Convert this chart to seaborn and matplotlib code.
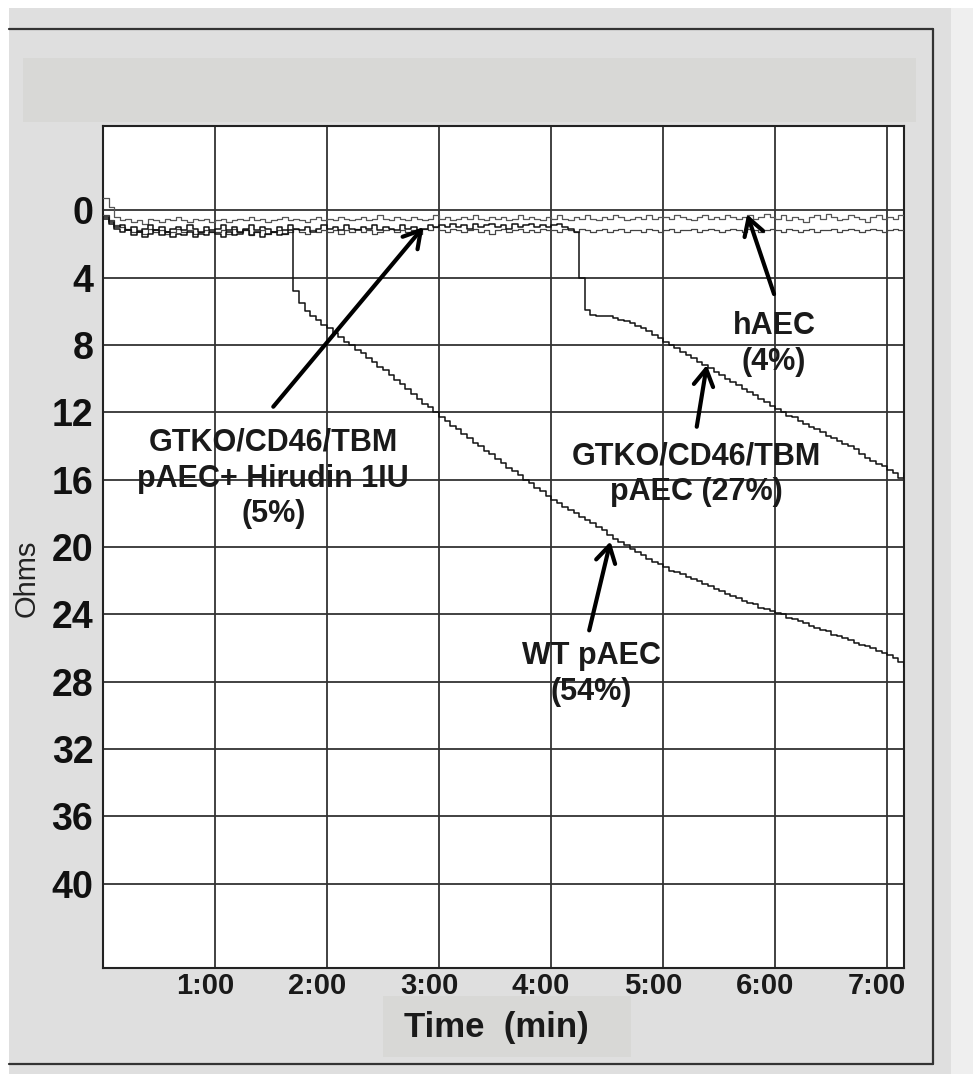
import numpy as np
import pandas as pd
import matplotlib
matplotlib.use("Agg")
import matplotlib.pyplot as plt
from matplotlib.patches import Rectangle
from matplotlib.lines import Line2D
from matplotlib.transforms import ScaledTranslation
import seaborn as sns

# ---------------- data ----------------
time_min = np.round(np.arange(0, 144) * 0.05, 2)  # 0.00 .. 7.15 min sampling grid

haec = [-0.7, -0.2, 0.4, 0.6, 0.5, 0.7, 0.6, 0.8, 0.5, 0.6, 0.7, 0.5, 0.6, 0.4, 0.6, 0.7, 0.5, 0.6, 0.5, 0.7,
        0.6, 0.5, 0.7, 0.6, 0.5, 0.6, 0.4, 0.6, 0.5, 0.7, 0.6, 0.5, 0.4, 0.6, 0.5, 0.6, 0.7, 0.5, 0.4, 0.6,
        0.5, 0.6, 0.4, 0.5, 0.6, 0.5, 0.4, 0.6, 0.5, 0.3, 0.5, 0.6, 0.4, 0.5, 0.6, 0.4, 0.5, 0.6, 0.5, 0.3,
        0.5, 0.4, 0.6, 0.5, 0.4, 0.5, 0.3, 0.5, 0.6, 0.4, 0.5, 0.4, 0.6, 0.5, 0.3, 0.5, 0.4, 0.5, 0.6, 0.4,
        0.5, 0.3, 0.5, 0.6, 0.4, 0.5, 0.3, 0.5, 0.6, 0.4, 0.5, 0.3, 0.4, 0.6, 0.5, 0.4, 0.5, 0.3, 0.5, 0.4,
        0.4, 0.5, 0.3, 0.4, 0.5, 0.6, 0.4, 0.3, 0.5, 0.4, 0.5, 0.3, 0.4, 0.5, 0.4, 0.3, 0.5, 0.4, 0.2, 0.4,
        0.5, 0.3, 0.6, 0.4, 0.5, 0.7, 0.4, 0.3, 0.5, 0.2, 0.4, 0.6, 0.5, 0.3, 0.4, 0.5, 0.7, 0.4, 0.3, 0.5,
        0.4, 0.5, 0.3, 0.4]

hirudin = [0.3, 0.6, 0.9, 1.0, 1.1, 1.3, 1.2, 1.4, 1.1, 1.3, 1.2, 1.4, 1.3, 1.1, 1.3, 1.2, 1.4, 1.3, 1.2, 1.3,
           1.3, 1.2, 1.4, 1.1, 1.3, 1.2, 1.5, 1.3, 1.2, 1.4, 1.3, 1.2, 1.4, 1.3, 1.1, 1.3, 1.4, 1.2, 1.3, 1.2,
           1.3, 1.2, 1.4, 1.2, 1.3, 1.1, 1.3, 1.2, 1.4, 1.3, 1.2, 1.1, 1.3, 1.2, 1.3, 1.2, 1.4, 1.1, 1.2, 1.0,
           1.2, 1.3, 1.1, 1.2, 1.3, 1.2, 1.1, 1.3, 1.2, 1.4, 1.2, 1.1, 1.3, 1.2, 1.1, 1.3, 1.2, 1.3, 1.1, 1.2,
           1.2, 1.3, 1.1, 1.2, 1.3, 1.1, 1.2, 1.3, 1.2, 1.1, 1.3, 1.2, 1.1, 1.3, 1.2, 1.2, 1.3, 1.1, 1.2, 1.3,
           1.2, 1.1, 1.3, 1.2, 1.2, 1.1, 1.3, 1.2, 1.1, 1.2, 1.3, 1.2, 1.1, 1.2, 1.3, 1.1, 1.2, 1.3, 1.2, 1.1,
           1.2, 1.3, 1.1, 1.2, 1.3, 1.2, 1.1, 1.3, 1.2, 1.2, 1.1, 1.3, 1.2, 1.1, 1.2, 1.3, 1.2, 1.1, 1.2, 1.3,
           1.2, 1.1, 1.2, 1.2]

wt_paec = [0.5, 0.8, 1.1, 1.3, 1.2, 1.5, 1.3, 1.6, 1.4, 1.2, 1.5, 1.3, 1.6, 1.4, 1.5, 1.3, 1.6, 1.4, 1.5, 1.3,
           1.4, 1.6, 1.3, 1.5, 1.4, 1.2, 1.5, 1.3, 1.6, 1.4, 1.3, 1.5, 1.4, 1.2, 4.8, 5.5, 6.0, 6.3, 6.5, 6.8,
           7.0, 7.3, 7.5, 7.8, 8.0, 8.3, 8.5, 8.8, 9.0, 9.3, 9.5, 9.8, 10.1, 10.3, 10.6, 10.9, 11.2, 11.5, 11.7, 12.0,
           12.3, 12.5, 12.8, 13.0, 13.3, 13.5, 13.8, 14.0, 14.3, 14.5, 14.8, 15.0, 15.3, 15.5, 15.7, 16.0, 16.2, 16.5, 16.7, 17.0,
           17.2, 17.4, 17.6, 17.8, 18.0, 18.2, 18.4, 18.6, 18.8, 19.0, 19.3, 19.5, 19.7, 19.9, 20.1, 20.3, 20.5, 20.7, 20.9, 21.0,
           21.2, 21.4, 21.5, 21.6, 21.8, 21.9, 22.0, 22.2, 22.3, 22.5, 22.6, 22.8, 22.9, 23.0, 23.2, 23.3, 23.4, 23.6, 23.7, 23.8,
           23.9, 24.0, 24.2, 24.3, 24.4, 24.5, 24.7, 24.8, 24.9, 25.0, 25.2, 25.3, 25.4, 25.5, 25.7, 25.8, 25.9, 26.0, 26.2, 26.3,
           26.4, 26.6, 26.8, 27.1]

gtko_paec = [0.4, 0.7, 1.0, 0.9, 1.2, 1.0, 1.3, 1.1, 0.9, 1.2, 1.0, 1.3, 1.1, 1.0, 1.2, 0.9, 1.1, 1.3, 1.0, 1.2,
             1.1, 0.9, 1.2, 1.0, 1.3, 1.1, 0.9, 1.2, 1.0, 1.1, 1.3, 1.0, 1.2, 0.9, 1.1, 1.2, 1.0, 1.3, 1.1, 0.9,
             1.1, 1.0, 1.2, 0.9, 1.1, 1.2, 1.0, 1.1, 0.9, 1.2, 1.0, 1.1, 1.2, 0.9, 1.1, 1.0, 1.2, 1.1, 0.9, 1.0,
             0.9, 1.0, 0.8, 1.0, 0.9, 1.1, 0.8, 1.0, 0.9, 0.8, 1.0, 0.9, 1.1, 0.8, 1.0, 0.9, 0.8, 1.0, 0.9, 1.0,
             0.9, 0.8, 1.0, 1.1, 1.3, 4.0, 5.9, 6.2, 6.3, 6.3, 6.3, 6.4, 6.5, 6.6, 6.7, 6.9, 7.0, 7.2, 7.4, 7.6,
             7.8, 8.0, 8.2, 8.4, 8.6, 8.8, 9.0, 9.2, 9.4, 9.6, 9.8, 10.0, 10.2, 10.4, 10.6, 10.8, 11.0, 11.2, 11.4, 11.6,
             11.8, 12.0, 12.2, 12.3, 12.5, 12.7, 12.9, 13.0, 13.2, 13.4, 13.5, 13.7, 13.9, 14.0, 14.2, 14.5, 14.7, 14.9, 15.1, 15.2,
             15.4, 15.6, 15.9, 15.6]

x_ticks = [1, 2, 3, 4, 5, 6, 7]
x_tick_labels = ["1:00", "2:00", "3:00", "4:00", "5:00", "6:00", "7:00"]
y_ticks = [0, 4, 8, 12, 16, 20, 24, 28, 32, 36, 40]
y_tick_labels = [str(v) for v in y_ticks]

# ---------------- style ----------------
sns.set_style("white")
plt.rcParams["font.family"] = ["Liberation Sans", "DejaVu Sans"]

W, H = 973, 1074
fig = plt.figure(figsize=(W / 100, H / 100), dpi=100)
fig.patch.set_facecolor("#dfdfdf")


def fx(x):
    return x / W


def fy(y):
    return 1 - y / H


def rect(x0, y0, x1, y1, color):
    fig.add_artist(Rectangle((fx(x0), fy(y1)), fx(x1) - fx(x0), fy(y0) - fy(y1),
                             transform=fig.transFigure, facecolor=color, edgecolor="none", zorder=0))


# background framing (screenshot-like)
rect(0, 0, W, 8, "white")
rect(0, 0, 9, H, "white")
rect(951, 8, W, H, "#efefef")
rect(23, 58, 916, 122, "#d8d8d6")
rect(383, 996, 631, 1057, "#d8d8d6")
frame_kw = dict(transform=fig.transFigure, color="#333333", lw=1.6, zorder=1)
fig.add_artist(Line2D([fx(9), fx(933)], [fy(29), fy(29)], **frame_kw))
fig.add_artist(Line2D([fx(933), fx(933)], [fy(29), fy(1064)], **frame_kw))
fig.add_artist(Line2D([fx(9), fx(933)], [fy(1064), fy(1064)], **frame_kw))

# ---------------- axes ----------------
ax = fig.add_axes([fx(103), fy(968), fx(904) - fx(103), fy(126) - fy(968)])
ax.set_facecolor("white")

series = [
    (haec, "#555555", 0.9),
    (hirudin, "#444444", 0.9),
    (gtko_paec, "#111111", 1.1),
    (wt_paec, "#111111", 1.1),
]
for vals, col, lw in series:
    df = pd.DataFrame({"t": time_min, "ohms": vals})
    sns.lineplot(data=df, x="t", y="ohms", ax=ax, color=col, lw=lw,
                 drawstyle="steps-post", estimator=None, zorder=3)

ax.set_xlim(0, 7.15)
ax.set_ylim(45, -5)
ax.set_xticks(x_ticks)
ax.set_xticklabels(x_tick_labels, fontsize=21, fontweight="bold", color="#1a1a1a")
ax.set_yticks(y_ticks)
ax.set_yticklabels(y_tick_labels, fontsize=27, fontweight="bold", color="#111111")
ax.tick_params(axis="both", length=0)
ax.tick_params(axis="x", pad=3)
ax.tick_params(axis="y", pad=7)
off = ScaledTranslation(-10 / 100, 0, fig.dpi_scale_trans)
for lab in ax.get_xticklabels():
    lab.set_transform(lab.get_transform() + off)

ax.grid(True, color="#333333", lw=1.3)
ax.set_axisbelow(True)
for s in ax.spines.values():
    s.set_color("#222222")
    s.set_linewidth(1.5)
ax.set_xlabel("")
ax.set_ylabel("")

fig.text(fx(27), fy(578), "Ohms", rotation=90, ha="center", va="center",
         fontsize=21, color="#222222")
fig.text(fx(496), fy(1028), "Time  (min)", ha="center", va="center",
         fontsize=25, fontweight="bold", color="#1a1a1a")

# ---------------- annotations ----------------
txt_kw = dict(ha="center", va="center", fontsize=22, fontweight="bold",
              color="#1a1a1a", linespacing=1.25, zorder=5)
ax.text(1.52, 15.94, "GTKO/CD46/TBM\npAEC+ Hirudin 1IU\n(5%)", **txt_kw)
ax.text(5.99, 7.94, "hAEC\n(4%)", **txt_kw)
ax.text(5.30, 15.7, "GTKO/CD46/TBM\npAEC (27%)", **txt_kw)
ax.text(4.36, 27.56, "WT pAEC\n(54%)", **txt_kw)

arrow_kw = dict(arrowstyle="->,head_length=0.6,head_width=0.35", lw=3,
                color="black", mutation_scale=20, shrinkA=0, shrinkB=0)
for head, tail in [((2.86, 1.0), (1.52, 11.67)),
                   ((5.39, 9.19), (5.30, 12.86)),
                   ((5.75, 0.24), (5.99, 4.98)),
                   ((4.53, 19.67), (4.34, 24.95))]:
    ax.annotate("", xy=head, xytext=tail, arrowprops=arrow_kw, zorder=6)

fig.savefig("out.png", dpi=100, facecolor=fig.get_facecolor())
